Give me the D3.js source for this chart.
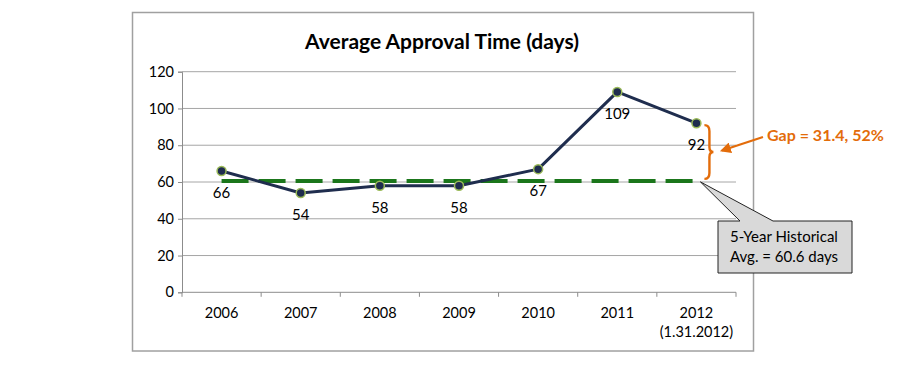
<!DOCTYPE html>
<html>
<head>
<meta charset="utf-8">
<script src="https://cdn.jsdelivr.net/npm/d3@7"></script>
<style>
  body { margin: 0; background: #fff; }
  svg { display: block; }
  text { font-family: Lato, "Open Sans", sans-serif; }
</style>
</head>
<body>
<svg id="chart" width="900" height="366"></svg>
<script>
const categories = ["2006", "2007", "2008", "2009", "2010", "2011", "2012"];
const categorySub = ["", "", "", "", "", "", "(1.31.2012)"];
const approvalDays = [66, 54, 58, 58, 67, 109, 92];
const historicalAvg = 60.6;
const yTicks = [0, 20, 40, 60, 80, 100, 120];
const titleText = "Average Approval Time (days)";
const gapText = "Gap = 31.4, 52%";
const calloutLines = ["5-Year Historical", "Avg. = 60.6 days"];

const svg = d3.select("#chart");

// outer frame
svg.append("rect")
  .attr("x", 132.5).attr("y", 12.5).attr("width", 621).attr("height", 338.5)
  .attr("fill", "#fff").attr("stroke", "#a0a0a0").attr("stroke-width", 1.5);

const x = d3.scaleBand().domain(categories).range([182, 736]);
const y = d3.scaleLinear().domain([0, 120]).range([292.3, 71.7]);

// title
svg.append("text")
  .attr("x", 442).attr("y", 49)
  .attr("text-anchor", "middle")
  .attr("font-size", 21).attr("font-weight", 700).attr("fill", "#000")
  .text(titleText);

// gridlines
svg.append("g").selectAll("line")
  .data(yTicks.filter(d => d > 0))
  .join("line")
  .attr("x1", 182).attr("x2", 736)
  .attr("y1", d => y(d)).attr("y2", d => y(d))
  .attr("stroke", "#a6a6a6").attr("stroke-width", 1);

// y axis
const yAxis = svg.append("g")
  .attr("transform", "translate(182,0)")
  .call(d3.axisLeft(y).tickValues(yTicks).tickSize(4).tickPadding(4));
yAxis.select(".domain").attr("stroke", "#8c8c8c");
yAxis.selectAll(".tick line").attr("stroke", "#8c8c8c");
yAxis.selectAll("text").attr("font-size", 14.5).attr("fill", "#000")
  .style("font-family", "Lato, sans-serif");

// x axis
const xAxisG = svg.append("g").attr("transform", `translate(0,${y(0)})`);
xAxisG.append("line")
  .attr("x1", 182).attr("x2", 736).attr("y1", 0).attr("y2", 0)
  .attr("stroke", "#8c8c8c");
const bounds = categories.map(c => x(c)).concat([x.range()[1]]);
xAxisG.selectAll("line.tk").data(bounds).join("line").attr("class", "tk")
  .attr("x1", d => d).attr("x2", d => d).attr("y1", 0).attr("y2", 4.5)
  .attr("stroke", "#8c8c8c");
xAxisG.selectAll("text.cat").data(categories).join("text").attr("class", "cat")
  .attr("x", d => x(d) + x.bandwidth() / 2).attr("y", 26)
  .attr("text-anchor", "middle").attr("font-size", 14.5).attr("fill", "#000")
  .text(d => d);
xAxisG.selectAll("text.sub").data(categories.map((c, i) => ({c, s: categorySub[i]})).filter(d => d.s))
  .join("text").attr("class", "sub")
  .attr("x", d => x(d.c) + x.bandwidth() / 2).attr("y", 45)
  .attr("text-anchor", "middle").attr("font-size", 14.5).attr("fill", "#000")
  .text(d => d.s);

const cx = c => x(c) + x.bandwidth() / 2;

// historical average dashed line
svg.append("line")
  .attr("x1", cx(categories[0])).attr("x2", cx(categories[categories.length - 1]))
  .attr("y1", y(historicalAvg)).attr("y2", y(historicalAvg))
  .attr("stroke", "#1b761b").attr("stroke-width", 4)
  .attr("stroke-dasharray", "27,10");

// series line
const pts = categories.map((c, i) => ({c, v: approvalDays[i]}));
svg.append("path")
  .datum(pts)
  .attr("fill", "none").attr("stroke", "#1f2d4e").attr("stroke-width", 3)
  .attr("stroke-linejoin", "round")
  .attr("d", d3.line().x(d => cx(d.c)).y(d => y(d.v)));

svg.append("g").selectAll("circle").data(pts).join("circle")
  .attr("cx", d => cx(d.c)).attr("cy", d => y(d.v)).attr("r", 4.5)
  .attr("fill", "#1f2d4e").attr("stroke", "#9bbb59").attr("stroke-width", 1.5);

svg.append("g").selectAll("text").data(pts).join("text")
  .attr("x", d => cx(d.c)).attr("y", d => y(d.v) + 27)
  .attr("text-anchor", "middle").attr("font-size", 15).attr("fill", "#000")
  .text(d => d.v);

// gap brace
const last = pts[pts.length - 1];
const bTop = y(last.v) + 2, bBot = y(historicalAvg) - 2;
const bMid = (bTop + bBot) / 2;
const bx = cx(last.c) + 8;
const orange = "#e36c0a";
svg.append("path")
  .attr("d", `M${bx},${bTop} Q${bx + 5},${bTop} ${bx + 5},${bTop + 6} L${bx + 5},${bMid - 5} Q${bx + 5},${bMid} ${bx + 9},${bMid} Q${bx + 5},${bMid} ${bx + 5},${bMid + 5} L${bx + 5},${bBot - 6} Q${bx + 5},${bBot} ${bx},${bBot}`)
  .attr("fill", "none").attr("stroke", orange).attr("stroke-width", 2.4);

// arrow
svg.append("defs").append("marker")
  .attr("id", "ah").attr("viewBox", "0 0 10 10").attr("refX", 8).attr("refY", 5)
  .attr("markerWidth", 5).attr("markerHeight", 5).attr("orient", "auto")
  .append("path").attr("d", "M0,0 L10,5 L0,10 z").attr("fill", orange);
svg.append("line")
  .attr("x1", 763).attr("y1", 137).attr("x2", 722).attr("y2", 150.5)
  .attr("stroke", orange).attr("stroke-width", 2.2).attr("marker-end", "url(#ah)");

svg.append("text")
  .attr("x", 767).attr("y", 141)
  .attr("font-size", 16).attr("font-weight", 700).attr("fill", orange)
  .text(gapText);

// callout
const tipX = cx(last.c) + 4, tipY = y(historicalAvg) + 1;
svg.append("path")
  .attr("d", `M718,221 L740,221 L${tipX},${tipY} L773,221 L852,221 L852,273 L718,273 Z`)
  .attr("fill", "#d9d9d9").attr("stroke", "#222").attr("stroke-width", 1);
svg.append("g").selectAll("text").data(calloutLines).join("text")
  .attr("x", 730).attr("y", (d, i) => 242 + i * 19.5)
  .attr("font-size", 15).attr("fill", "#000")
  .text(d => d);
</script>
</body>
</html>
